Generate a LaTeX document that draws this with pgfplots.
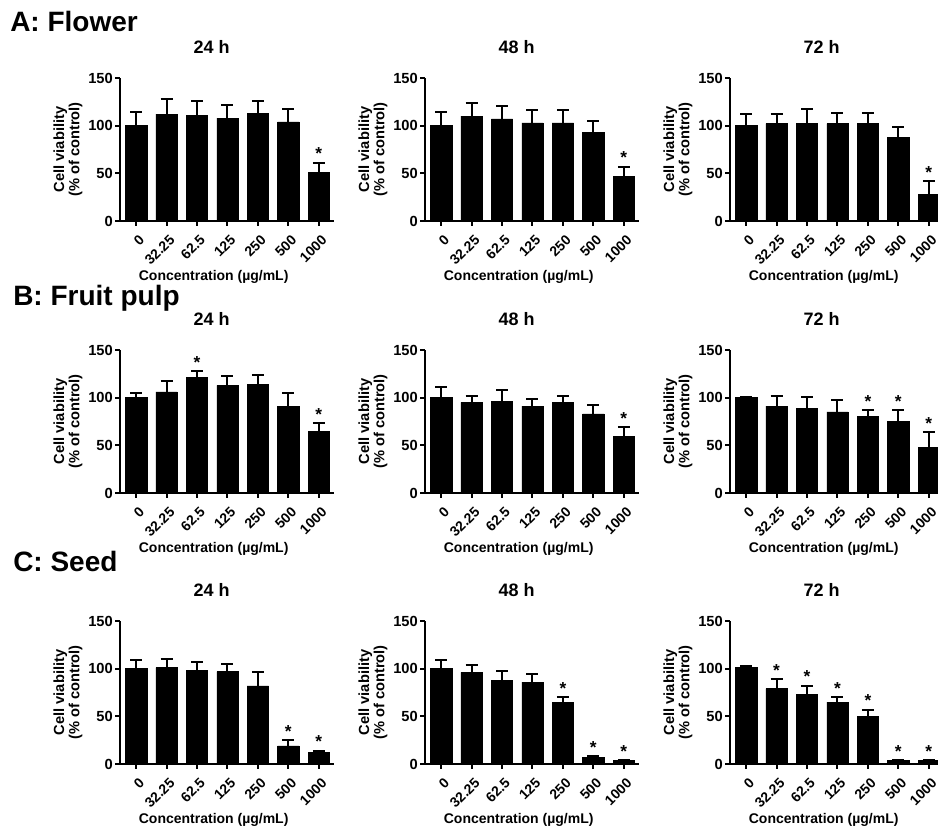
\documentclass[border=0pt]{standalone}
\usepackage{fontspec}
\setmainfont{Liberation Sans}
\usepackage{pgfplots}
\usepackage{pgfplotstable}
\pgfplotsset{compat=1.18}

\pgfplotstableread{
x y e
0 100 14
1 112 16
2 111 15
3 108 14
4 113 13
5 104 13
6 51 10
}\tAa
\pgfplotstableread{
x y e
0 100 14
1 110 14
2 107 14
3 103 13
4 103 13
5 93 12
6 47 10
}\tAb
\pgfplotstableread{
x y e
0 100 12
1 102 10
2 102 15
3 102 11
4 102 11
5 88 11
6 28 14
}\tAc
\pgfplotstableread{
x y e
0 100 5
1 106 11
2 121 7
3 113 10
4 114 10
5 91 14
6 65 8
}\tBa
\pgfplotstableread{
x y e
0 100 11
1 95 7
2 96 12
3 91 8
4 95 7
5 83 9
6 59 10
}\tBb
\pgfplotstableread{
x y e
0 100 0.5
1 91 11
2 89 12
3 85 13
4 80 7
5 75 12
6 48 16
}\tBc
\pgfplotstableread{
x y e
0 100 9
1 101 9
2 98 9
3 97 8
4 82 14
5 19 6
6 12 2
}\tCa
\pgfplotstableread{
x y e
0 100 9
1 96 8
2 88 10
3 86 8
4 65 5
5 7 1
6 3.5 0.5
}\tCb
\pgfplotstableread{
x y e
0 101 1.5
1 79 10
2 73 9
3 65 5
4 50 7
5 3.5 0.7
6 3.5 0.7
}\tCc

\pgfplotsset{
  panel/.style={
    anchor=south west, scale only axis,
    width=160.5pt, height=107.25pt,
    xmin=-0.53, xmax=6.5, ymin=0, ymax=150,
    ytick={0,50,100,150},
    xtick={0,...,6}, xticklabels={0,32.25,62.5,125,250,500,1000},
    axis x line*=bottom, axis y line*=left,
    axis line style={line width=1.5pt, black},
    tick style={line width=1.5pt, black},
    major tick length=3.75pt, tick align=outside,
    /pgf/number format/assume math mode=true,
    yticklabel style={font=\bfseries\fontsize{11}{12}\selectfont, inner sep=1.5pt},
    xticklabel style={xshift=5pt, yshift=-8pt, rotate=45, anchor=east, inner sep=1pt,
      font=\bfseries\fontsize{10.5}{12}\selectfont},
    xlabel={Concentration (µg/mL)},
    xlabel style={at={(axis description cs:0.5,0)}, anchor=base, yshift=-45pt, xshift=-10pt,
      font=\bfseries\fontsize{10.5}{12}\selectfont},
    ylabel={Cell viability\\(\% of control)},
    ylabel style={at={(axis description cs:0,0.5)}, anchor=center, yshift=39pt, align=center,
      font=\bfseries\fontsize{11}{11.5}\selectfont},
    title style={at={(axis description cs:0.5,1)}, anchor=base, yshift=12pt, xshift=-11.5pt,
      font=\bfseries\fontsize{13.5}{15}\selectfont},
    clip=false,
  },
  barsty/.style={ybar, bar shift=0pt, bar width=16pt, fill=black, draw=black,
    error bars/.cd, y dir=plus, y explicit,
    error bar style={line width=1.5pt, black},
    error mark options={rotate=90, mark size=4.5pt, line width=1.5pt, black}},
  starsty/.style={draw=none, mark=none, nodes near coords={*},
    every node near coord/.append style={anchor=south, inner sep=0pt, yshift=2pt,
      font=\bfseries\fontsize{13}{13}\selectfont}},
}

\newcommand{\panel}[5]{%
\begin{axis}[panel, at={(#1pt*0.75,#2pt*0.75)}, title={#3}]
\addplot[barsty] table[x=x, y=y, y error=e] {#4};
\addplot[starsty] coordinates {#5};
\end{axis}}

\begin{document}
\begin{tikzpicture}
\path[use as bounding box] (0,0) rectangle (703.5pt,620.25pt);
\node[anchor=base west, inner sep=0pt, font=\bfseries\fontsize{21}{23}\selectfont] at (7.5pt,596.25pt) {A: Flower};
\node[anchor=base west, inner sep=0pt, font=\bfseries\fontsize{21}{23}\selectfont] at (9.75pt,390.75pt) {B: Fruit pulp};
\node[anchor=base west, inner sep=0pt, font=\bfseries\fontsize{21}{23}\selectfont] at (9.75pt,191.25pt) {C: Seed};

\panel{120}{606}{24 h}{\tAa}{(6,61)}
\panel{425}{606}{48 h}{\tAb}{(6,57)}
\panel{730}{606}{72 h}{\tAc}{(6,42)}

\panel{120}{334}{24 h}{\tBa}{(2,128) (6,73)}
\panel{425}{334}{48 h}{\tBb}{(6,69)}
\panel{730}{334}{72 h}{\tBc}{(4,87) (5,87) (6,64)}

\panel{120}{63}{24 h}{\tCa}{(5,25) (6,14)}
\panel{425}{63}{48 h}{\tCb}{(4,70) (5,8) (6,4)}
\panel{730}{63}{72 h}{\tCc}{(1,89) (2,82) (3,70) (4,57) (5,4) (6,4)}
\end{tikzpicture}
\end{document}
